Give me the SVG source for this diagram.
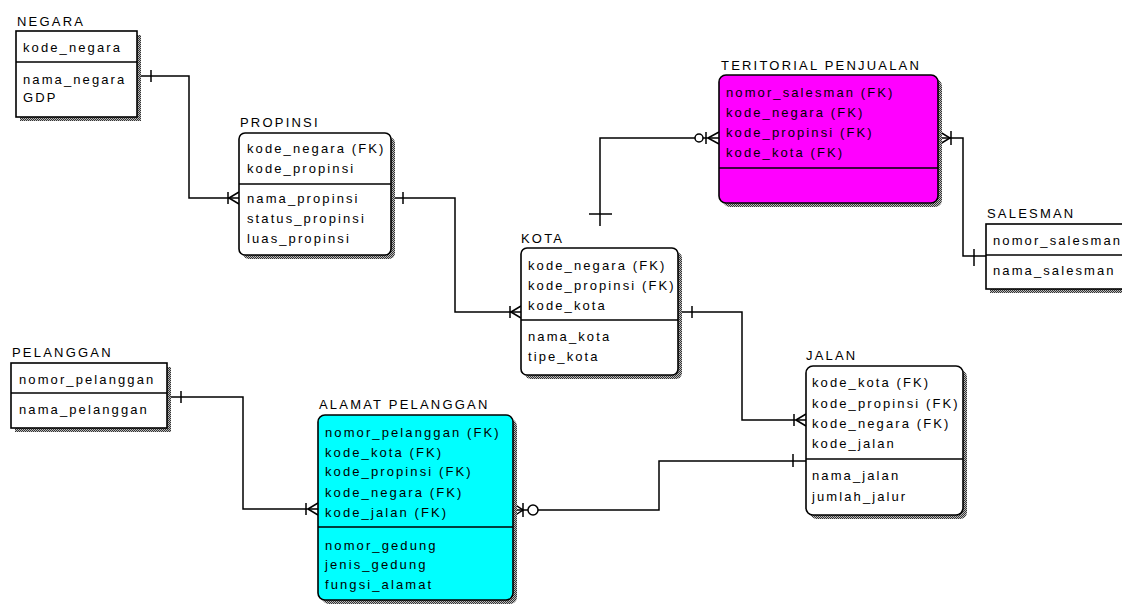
<svg xmlns="http://www.w3.org/2000/svg" width="1122" height="604" viewBox="0 0 1122 604">
<style>
.t{font-family:"Liberation Sans",Arial,sans-serif;font-size:13px;letter-spacing:2.1px;fill:#000}
.h{font-family:"Liberation Sans",Arial,sans-serif;font-size:13px;letter-spacing:2.2px;fill:#000}
.box{stroke:#000;stroke-width:1.6;fill:#fff}
.sh{fill:url(#dots);stroke:none}
.dv{stroke:#000;stroke-width:1.6}
.c{fill:none;stroke:#000;stroke-width:1.5}
.o{fill:#fff;stroke:#000;stroke-width:1.5}
</style>
<defs>
<pattern id="dots" width="2" height="2" patternUnits="userSpaceOnUse">
<rect width="2" height="2" fill="#bbb"/>
<rect width="1" height="1" fill="#333"/>
<rect x="1" y="1" width="1" height="1" fill="#333"/>
</pattern>
</defs>
<rect width="1122" height="604" fill="#fff"/>

<g id="connectors">
<!-- NEGARA - PROPINSI -->
<path class="c" d="M137,76 H189 V198 H239"/>
<path class="c" d="M151,70 V82"/>
<path class="c" d="M228,192 V204 M229,198 L239,192 M229,198 L239,204"/>
<!-- PROPINSI - KOTA -->
<path class="c" d="M391,198 H455 V312 H521"/>
<path class="c" d="M403,192 V204"/>
<path class="c" d="M510,306 V318 M511,312 L521,306 M511,312 L521,318"/>
<!-- KOTA - JALAN -->
<path class="c" d="M678,312 H742 V420 H806"/>
<path class="c" d="M692,306 V318"/>
<path class="c" d="M794,414 V426 M796,420 L806,414 M796,420 L806,426"/>
<!-- KOTA - TERITORIAL -->
<path class="c" d="M600,226 V138 H719"/>
<path class="c" d="M589,214 H612"/>
<path class="c" d="M706,132 V144 M708,138 L719,132 M708,138 L719,144"/>
<circle class="o" cx="699" cy="138" r="4"/>
<!-- TERITORIAL - SALESMAN -->
<path class="c" d="M938,138 H963 V256 H986"/>
<path class="c" d="M940,132 L950,138 L940,144 M951,131 V145"/>
<path class="c" d="M974,249 V266"/>
<!-- PELANGGAN - ALAMAT -->
<path class="c" d="M167,397 H243 V509 H318"/>
<path class="c" d="M181,391 V403"/>
<path class="c" d="M306,503 V515 M308,509 L318,503 M308,509 L318,515"/>
<!-- ALAMAT - JALAN -->
<path class="c" d="M513,510 H659 V461 H806"/>
<path class="c" d="M514,504 L523,510 L514,516 M523,503 V517"/>
<circle class="o" cx="533" cy="510" r="5"/>
<path class="c" d="M793,454 V467"/>
</g>

<g id="negara">
<text class="h" x="17" y="26">NEGARA</text>
<rect class="sh" x="20" y="35" width="121" height="86"/>
<rect class="box" x="16" y="31" width="121" height="86"/>
<line class="dv" x1="16" y1="62" x2="137" y2="62"/>
<text class="t" x="23" y="52">kode_negara</text>
<text class="t" x="23" y="84">nama_negara</text>
<text class="t" x="23" y="102">GDP</text>
</g>

<g id="propinsi">
<text class="h" x="240" y="127">PROPINSI</text>
<rect class="sh" x="243" y="137" width="152" height="122" rx="6"/>
<rect class="box" x="239" y="133" width="152" height="122" rx="6"/>
<line class="dv" x1="239" y1="184" x2="391" y2="184"/>
<text class="t" x="247" y="153">kode_negara (FK)</text>
<text class="t" x="247" y="173">kode_propinsi</text>
<text class="t" x="247" y="203">nama_propinsi</text>
<text class="t" x="247" y="223">status_propinsi</text>
<text class="t" x="247" y="243">luas_propinsi</text>
</g>

<g id="kota">
<text class="h" x="521" y="243">KOTA</text>
<rect class="sh" x="525" y="252" width="157" height="127" rx="6"/>
<rect class="box" x="521" y="248" width="157" height="127" rx="6"/>
<line class="dv" x1="521" y1="320" x2="678" y2="320"/>
<text class="t" x="528" y="270">kode_negara (FK)</text>
<text class="t" x="528" y="290">kode_propinsi (FK)</text>
<text class="t" x="528" y="310">kode_kota</text>
<text class="t" x="528" y="341">nama_kota</text>
<text class="t" x="528" y="361">tipe_kota</text>
</g>

<g id="teritorial">
<text class="h" x="721" y="70">TERITORIAL PENJUALAN</text>
<rect class="sh" x="723" y="79" width="219" height="128" rx="7"/>
<rect class="box" x="719" y="75" width="219" height="128" rx="7" style="fill:#ff00ff"/>
<line class="dv" x1="719" y1="168" x2="938" y2="168"/>
<text class="t" x="726" y="97">nomor_salesman (FK)</text>
<text class="t" x="726" y="117">kode_negara (FK)</text>
<text class="t" x="726" y="137">kode_propinsi (FK)</text>
<text class="t" x="726" y="157">kode_kota (FK)</text>
</g>

<g id="salesman">
<text class="h" x="987" y="218">SALESMAN</text>
<rect class="sh" x="990" y="228" width="144" height="65"/>
<rect class="box" x="986" y="224" width="144" height="65"/>
<line class="dv" x1="986" y1="255" x2="1130" y2="255"/>
<text class="t" x="993" y="245">nomor_salesman</text>
<text class="t" x="993" y="275">nama_salesman</text>
</g>

<g id="pelanggan">
<text class="h" x="12" y="357">PELANGGAN</text>
<rect class="sh" x="15" y="367" width="156" height="65"/>
<rect class="box" x="11" y="363" width="156" height="65"/>
<line class="dv" x1="11" y1="393" x2="167" y2="393"/>
<text class="t" x="19" y="384">nomor_pelanggan</text>
<text class="t" x="19" y="414">nama_pelanggan</text>
</g>

<g id="alamat">
<text class="h" x="319" y="409">ALAMAT PELANGGAN</text>
<rect class="sh" x="322" y="419" width="195" height="185" rx="7"/>
<rect class="box" x="318" y="415" width="195" height="185" rx="7" style="fill:#00ffff"/>
<line class="dv" x1="318" y1="527" x2="513" y2="527"/>
<text class="t" x="325" y="437">nomor_pelanggan (FK)</text>
<text class="t" x="325" y="457">kode_kota (FK)</text>
<text class="t" x="325" y="476">kode_propinsi (FK)</text>
<text class="t" x="325" y="497">kode_negara (FK)</text>
<text class="t" x="325" y="517">kode_jalan (FK)</text>
<text class="t" x="325" y="550">nomor_gedung</text>
<text class="t" x="325" y="569">jenis_gedung</text>
<text class="t" x="325" y="589">fungsi_alamat</text>
</g>

<g id="jalan">
<text class="h" x="806" y="360">JALAN</text>
<rect class="sh" x="810" y="370" width="157" height="149" rx="7"/>
<rect class="box" x="806" y="366" width="157" height="149" rx="7"/>
<line class="dv" x1="806" y1="459" x2="963" y2="459"/>
<text class="t" x="812" y="387">kode_kota (FK)</text>
<text class="t" x="812" y="408">kode_propinsi (FK)</text>
<text class="t" x="812" y="428">kode_negara (FK)</text>
<text class="t" x="812" y="448">kode_jalan</text>
<text class="t" x="812" y="480">nama_jalan</text>
<text class="t" x="812" y="501">jumlah_jalur</text>
</g>
</svg>
